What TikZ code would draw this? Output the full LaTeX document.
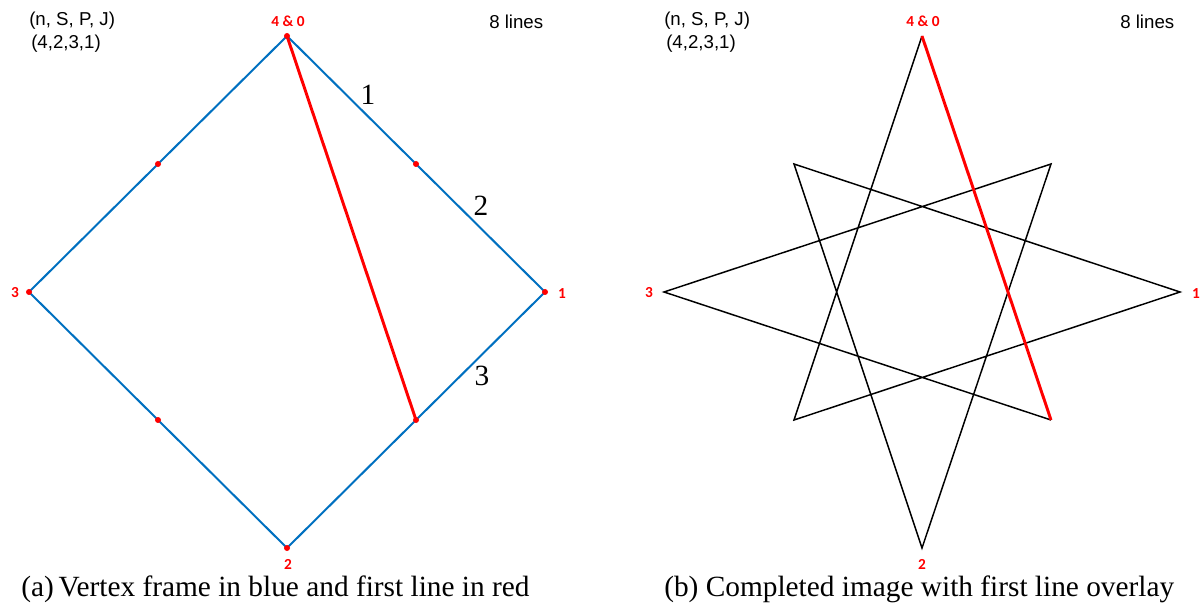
\documentclass[tikz,border=0pt]{standalone}
\usepackage{fontspec}
\setmainfont{Liberation Serif}
\newfontfamily\arialf{Liberation Sans}
\newfontfamily\calf{Carlito}
\definecolor{frameblue}{RGB}{0,112,192}
\definecolor{vred}{RGB}{255,0,0}
\begin{document}
\begin{tikzpicture}[x=0.75pt,y=-0.75pt,
  frame/.style={draw=frameblue,line width=1.5pt},
  firstline/.style={draw=vred,line width=2.2pt},
  starline/.style={draw=black,line width=1.1pt},
  vdot/.style={circle,fill=vred,inner sep=0pt,minimum size=4.5pt},
  vlabel/.style={text=vred,font=\calf\bfseries\fontsize{11.5}{13}\selectfont,inner sep=0pt},
  info/.style={font=\arialf\fontsize{14}{16}\selectfont,inner sep=0pt,anchor=west},
  seglabel/.style={font=\fontsize{22}{26}\selectfont,inner sep=0pt},
  caption/.style={font=\fontsize{22}{26}\selectfont,inner sep=0pt,anchor=west}]
\useasboundingbox (0,0) rectangle (1201,605);
% ---------- (a) ----------
\coordinate (aT) at (287,36);
\coordinate (aR) at (545,292);
\coordinate (aB) at (287,548);
\coordinate (aL) at (29,292);
\coordinate (aUL) at (158,164);
\coordinate (aUR) at (416,164);
\coordinate (aLL) at (158,420);
\coordinate (aLR) at (416,420);
\draw[frame] (aT) -- (aR) -- (aB) -- (aL) -- cycle;
\draw[firstline] (aT) -- (aLR);
\foreach \p in {aT,aR,aB,aL,aUL,aUR,aLL,aLR} \node[vdot] at (\p) {};
\node[vlabel] (alT) at (288,21) {4 \& 0};
\node[vlabel] (alL) at (15,293) {3};
\node[vlabel] (alR) at (562,294) {1};
\node[vlabel] (alB) at (288,564) {2};
\node[info] (anspj) at (29,21) {(n, S, P, J)};
\node[info] (avals) at (31,44) {(4,2,3,1)};
\node[info] (alines) at (489,22) {8 lines};
\node[seglabel] (s1) at (368,95) {1};
\node[seglabel] (s2) at (481,206) {2};
\node[seglabel] (s3) at (482,376) {3};
\node[caption] (capa) at (21,589) {(a)\,Vertex frame in blue and first line in red};
% ---------- (b) ----------
\coordinate (bT) at (922,36);
\coordinate (bUR) at (1051,164);
\coordinate (bR) at (1180,292);
\coordinate (bLR) at (1051,420);
\coordinate (bB) at (922,548);
\coordinate (bLL) at (794,420);
\coordinate (bL) at (664,292);
\coordinate (bUL) at (794,164);
\draw[starline] (bLR) -- (bL) -- (bUR) -- (bB) -- (bUL) -- (bR) -- (bLL) -- (bT);
\draw[firstline] (bT) -- (bLR);
\node[vlabel] (blT) at (923,21) {4 \& 0};
\node[vlabel] (blL) at (649,293) {3};
\node[vlabel] (blR) at (1196,294) {1};
\node[vlabel] (blB) at (922,564) {2};
\node[info] (bnspj) at (664,21) {(n, S, P, J)};
\node[info] (bvals) at (666,44) {(4,2,3,1)};
\node[info] (blines) at (1120,22) {8 lines};
\node[caption] (capb) at (664,589) {(b) Completed image with first line overlay};
\end{tikzpicture}
\end{document}
